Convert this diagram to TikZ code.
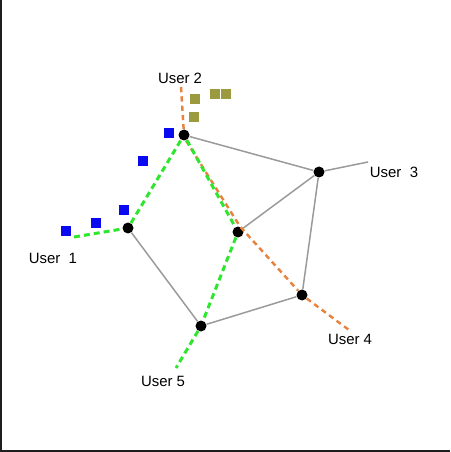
\documentclass[tikz,border=0pt]{standalone}
\usepackage{fontspec}
\setmainfont{Liberation Sans}
\usetikzlibrary{positioning}
\definecolor{route}{HTML}{2EE62E}
\definecolor{detour}{HTML}{E8823F}
\definecolor{link}{HTML}{9A9A9A}
\definecolor{pktblue}{HTML}{0A0AF0}
\definecolor{pktolive}{HTML}{9C9A3E}
\definecolor{frame}{HTML}{1E1E1E}

\begin{document}
\begin{tikzpicture}[x=0.02cm,y=-0.02cm,
  hub/.style={circle,fill=black,inner sep=0pt,minimum size=0.22cm},
  pkt/.style={rectangle,inner sep=0pt,minimum size=0.2cm},
  user/.style={font=\fontsize{8.5}{10}\selectfont,text=black},
  linkline/.style={link,line width=0.85pt},
  greenpath/.style={route,line width=1.7pt,dash pattern=on 3.4pt off 2.3pt},
  orangepath/.style={detour,line width=1.4pt,dash pattern=on 3pt off 2.3pt}]
  \useasboundingbox (0,0) rectangle (450,452);

  % Frame
  \draw[frame,line width=0.04cm] (1,0) -- (1,451) -- (450,451);

  % Routers
  \node[hub] (r2) at (184,135) {};
  \node[hub] (r1) at (128,228) {};
  \node[hub] (rc) at (238,232) {};
  \node[hub] (r3) at (319,172) {};
  \node[hub] (r4) at (302,295) {};
  \node[hub] (r5) at (201,326) {};

  % Users
  \coordinate (u2end) at (181,87);
  \coordinate (u3end) at (368,162);
  \coordinate (u1end) at (74,237);
  \coordinate (u4end) at (349,330);
  \coordinate (u5end) at (176,368);
  \node[user] (u2) at (180,78) {User 2};
  \node[user] (u3) at (394,172) {User\ \ 3};
  \node[user] (u1) at (53,258) {User\ \ 1};
  \node[user] (u4) at (350,339) {User 4};
  \node[user] (u5) at (163,381) {User 5};

  % Links
  \draw[linkline] (r2) -- (r3);
  \draw[linkline] (r3) -- (u3end);
  \draw[linkline] (r3) -- (rc);
  \draw[linkline] (r3) -- (r4);
  \draw[linkline] (r4) -- (r5);
  \draw[linkline] (r5) -- (r1);

  % Orange route
  \draw[orangepath] (u2end) -- (r2);
  \draw[orangepath] (r2.-70) -- (rc.70) -- (r4) -- (u4end);

  % Green route
  \draw[greenpath] (u1end) -- (r1);
  \draw[greenpath] (r1) -- (r2);
  \draw[greenpath] (r2) -- (rc);
  \draw[greenpath] (rc) -- (r5);
  \draw[greenpath] (r5) -- (u5end);

  % Packets
  \node[pkt,fill=pktblue] (b1) at (169,133) {};
  \node[pkt,fill=pktblue] (b2) at (143,161) {};
  \node[pkt,fill=pktblue] (b3) at (124,210) {};
  \node[pkt,fill=pktblue] (b4) at (96,223) {};
  \node[pkt,fill=pktblue] (b5) at (66,231) {};
  \node[pkt,fill=pktolive] (o1) at (195,99) {};
  \node[pkt,fill=pktolive] (o2) at (194,117) {};
  \node[pkt,fill=pktolive] (o3) at (215,94) {};
  \node[pkt,fill=pktolive] (o4) at (226,94) {};
\end{tikzpicture}
\end{document}
